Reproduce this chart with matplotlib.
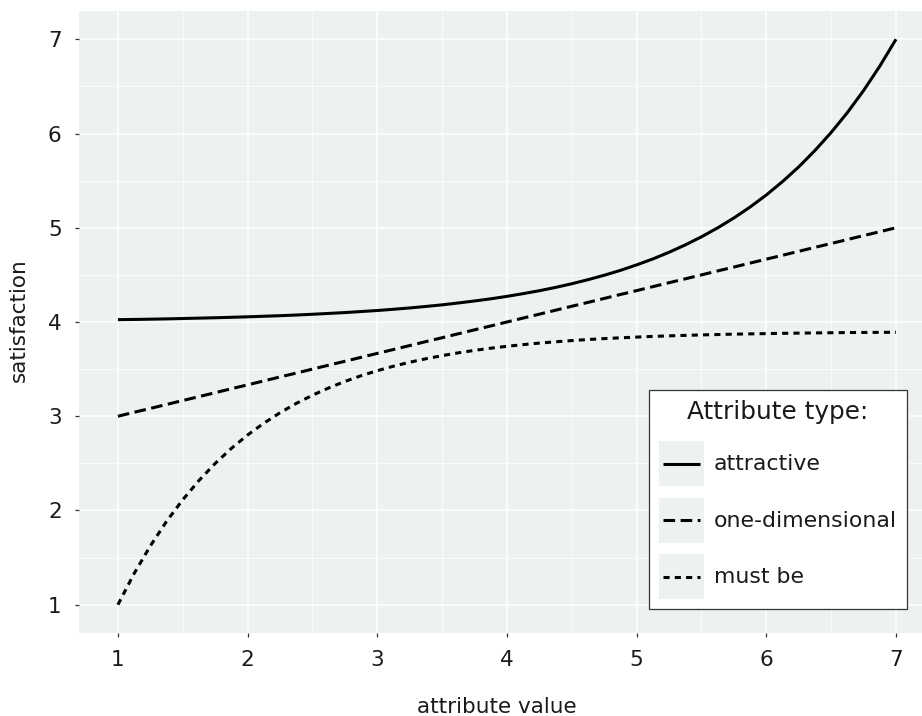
import matplotlib
matplotlib.use("Agg")
import matplotlib.pyplot as plt
from matplotlib.legend_handler import HandlerLine2D
from matplotlib.patches import Rectangle
from matplotlib.lines import Line2D

# ---- data ----
attribute_value = [1.0, 1.125, 1.25, 1.375, 1.5, 1.625, 1.75, 1.875,
                   2.0, 2.125, 2.25, 2.375, 2.5, 2.625, 2.75, 2.875,
                   3.0, 3.125, 3.25, 3.375, 3.5, 3.625, 3.75, 3.875,
                   4.0, 4.125, 4.25, 4.375, 4.5, 4.625, 4.75, 4.875,
                   5.0, 5.125, 5.25, 5.375, 5.5, 5.625, 5.75, 5.875,
                   6.0, 6.125, 6.25, 6.375, 6.5, 6.625, 6.75, 6.875, 7.0]
attractive = [4.025, 4.027, 4.030, 4.033, 4.037, 4.041, 4.045, 4.050,
              4.055, 4.061, 4.067, 4.074, 4.082, 4.091, 4.100, 4.111,
              4.122, 4.135, 4.149, 4.165, 4.182, 4.202, 4.223, 4.246,
              4.272, 4.301, 4.332, 4.367, 4.406, 4.449, 4.496, 4.548,
              4.606, 4.669, 4.740, 4.818, 4.904, 4.999, 5.104, 5.220,
              5.348, 5.490, 5.646, 5.820, 6.011, 6.222, 6.456, 6.715, 7.000]
one_dimensional = [3.000, 3.042, 3.083, 3.125, 3.167, 3.208, 3.250, 3.292,
                   3.333, 3.375, 3.417, 3.458, 3.500, 3.542, 3.583, 3.625,
                   3.667, 3.708, 3.750, 3.792, 3.833, 3.875, 3.917, 3.958,
                   4.000, 4.042, 4.083, 4.125, 4.167, 4.208, 4.250, 4.292,
                   4.333, 4.375, 4.417, 4.458, 4.500, 4.542, 4.583, 4.625,
                   4.667, 4.708, 4.750, 4.792, 4.833, 4.875, 4.917, 4.958, 5.000]
must_be = [1.000, 1.331, 1.624, 1.884, 2.114, 2.318, 2.499, 2.659,
           2.801, 2.926, 3.037, 3.136, 3.223, 3.300, 3.369, 3.430,
           3.483, 3.531, 3.573, 3.610, 3.643, 3.673, 3.699, 3.722,
           3.742, 3.760, 3.776, 3.790, 3.803, 3.814, 3.824, 3.832,
           3.840, 3.847, 3.853, 3.858, 3.863, 3.867, 3.871, 3.874,
           3.877, 3.880, 3.882, 3.884, 3.886, 3.888, 3.889, 3.890, 3.891]
series_labels = ["attractive", "one-dimensional", "must be"]
x_ticks = [1, 2, 3, 4, 5, 6, 7]
y_ticks = [1, 2, 3, 4, 5, 6, 7]
minor_ticks = [1.5, 2.5, 3.5, 4.5, 5.5, 6.5]

W, H = 922, 716
fig = plt.figure(figsize=(W / 100, H / 100), dpi=100)
fig.patch.set_facecolor("white")

left, top, bottom = 79, 11, 633
ax = fig.add_axes([left / W, 1 - bottom / H, 1 - left / W, (bottom - top) / H])
panel = "#EDF1F2"
ink = "#1a1a1a"
ax.set_facecolor(panel)
for s in ax.spines.values():
    s.set_visible(False)

ax.set_xlim(0.7, 7.0 + (W - 896) / 129.7)
ax.set_ylim(0.7, 7.3)
ax.set_xticks(x_ticks)
ax.set_yticks(y_ticks)
ax.set_xticks(minor_ticks, minor=True)
ax.set_yticks(minor_ticks, minor=True)
ax.grid(which="major", color="white", linewidth=1.1)
ax.grid(which="minor", color="white", linewidth=0.5)
ax.set_axisbelow(True)
ax.tick_params(which="major", length=3, width=0.9, color="#333333",
               labelsize=15.5, labelcolor=ink, pad=9.5)
ax.tick_params(which="minor", length=0)

lw = 2.2
l1, = ax.plot(attribute_value, attractive, color="black", lw=lw, solid_capstyle="butt",
              label=series_labels[0])
l2, = ax.plot(attribute_value, one_dimensional, color="black", lw=lw, linestyle=(0, (3.8, 1.8)),
              dash_capstyle="butt", label=series_labels[1])
l3, = ax.plot(attribute_value, must_be, color="black", lw=lw, linestyle=(0, (2.0, 1.7)),
              dash_capstyle="butt", label=series_labels[2])

fig.text(497 / W, 1 - 713 / H, "attribute value", ha="center", va="baseline",
         fontsize=15.5, color=ink)
fig.text(25 / W, 1 - 320 / H, "satisfaction", ha="center", va="baseline",
         rotation=90, rotation_mode="anchor", fontsize=15.5, color=ink)


class KeyHandler(HandlerLine2D):
    def create_artists(self, legend, orig_handle, xdescent, ydescent, width, height,
                       fontsize, trans):
        rect = Rectangle((-xdescent, -ydescent), width, height, facecolor=panel,
                         edgecolor="none")
        rect.set_transform(trans)
        inset = width * 0.09
        line = Line2D([-xdescent + inset, -xdescent + width - inset],
                      [-ydescent + height / 2] * 2)
        self.update_prop(line, orig_handle, legend)
        line.set_transform(trans)
        return [rect, line]


fs = 15.8
px = fs * 100 / 72.0
key_px = 45.0
# legend box height = fs*hh - 0.35*fs*(hh-0.7)
hh = (key_px / px - 0.245) / 0.65
leg = ax.legend(handles=[l1, l2, l3], title="Attribute type:", fontsize=fs,
                title_fontsize=17.8, loc="lower right",
                bbox_to_anchor=(907 / W, 1 - 609 / H), bbox_transform=fig.transFigure,
                borderaxespad=0, frameon=True, fancybox=False, framealpha=1,
                facecolor="white", edgecolor="#333333",
                handlelength=key_px / px, handleheight=hh, labelspacing=11.5 / px,
                handletextpad=10 / px, borderpad=10 / px,
                handler_map={Line2D: KeyHandler()})
# a little more room between the title and the keys
leg._legend_box.sep += 6 * 0.72
leg.get_frame().set_linewidth(0.9)
for t in leg.get_texts():
    t.set_color(ink)
leg.get_title().set_color(ink)

fig.savefig("out.png", dpi=100)
